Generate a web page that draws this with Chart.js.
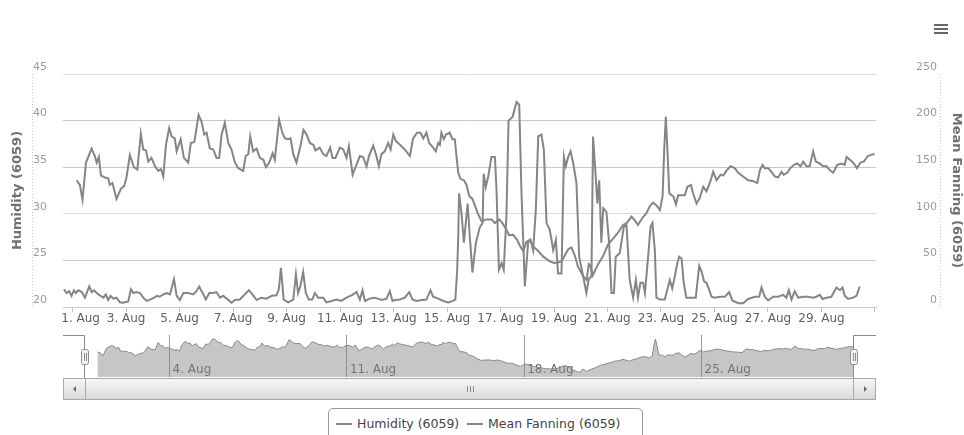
<!DOCTYPE html>
<html><head><meta charset="utf-8">
<script src="https://cdn.jsdelivr.net/npm/chart.js@4.4.1/dist/chart.umd.min.js"></script>
<style>
html,body{margin:0;padding:0;background:#fff;}
#wrap{position:relative;width:964px;height:435px;overflow:hidden;font-family:"DejaVu Sans",Verdana,sans-serif;}
canvas{position:absolute;left:0;}
#main{top:0;}
#nav{top:330px;}
.sb{position:absolute;box-sizing:border-box;top:378px;height:22px;border:1px solid #a8a8a8;background:linear-gradient(#f6f6f6,#dadada);}
.arrow{position:absolute;top:7px;width:0;height:0;border-top:3px solid transparent;border-bottom:3px solid transparent;}
.grip{position:absolute;top:386px;width:1px;height:6px;background:#8a8a8a;}
#legend{position:absolute;left:328px;top:408px;width:315px;height:34px;box-sizing:border-box;border:1px solid #9a9a9a;border-radius:5px;font-size:12.5px;color:#444;white-space:nowrap;}
#legend .it{position:absolute;top:7px;}
#legend .sym{display:inline-block;width:16px;height:2px;background:#858585;vertical-align:middle;margin-right:5px;position:relative;top:-1px;}
.bar{position:absolute;left:934px;width:14px;height:2px;background:#666;}
</style></head><body>
<div id="wrap">
  <canvas id="main" width="964" height="330"></canvas>
  <canvas id="nav" width="964" height="50"></canvas>
  <div class="sb" style="left:63px;width:813px;"></div>
  <div class="sb" style="left:63px;width:23px;"><div class="arrow" style="left:9px;border-right:3px solid #666;"></div></div>
  <div class="sb" style="left:85px;width:769px;"></div>
  <div class="sb" style="left:853px;width:23px;"><div class="arrow" style="left:10px;border-left:3px solid #666;"></div></div>
  <div class="grip" style="left:467px;"></div><div class="grip" style="left:470px;"></div><div class="grip" style="left:473px;"></div>
  <div id="legend"></div>
  <div class="bar" style="top:24px;"></div><div class="bar" style="top:28px;"></div><div class="bar" style="top:32px;"></div>
</div>
<script>
// ---- data (day of August, fractional) ----
const humidityDays = [1.15,1.27,1.37,1.50,1.71,1.83,1.90,1.98,2.06,2.21,2.33,2.39,2.49,2.64,2.81,2.93,3.02,3.14,3.29,3.42,3.55,3.64,3.74,3.83,3.95,4.08,4.20,4.30,4.39,4.49,4.61,4.70,4.82,4.89,5.04,5.16,5.32,5.42,5.55,5.71,5.82,5.92,6.01,6.13,6.26,6.38,6.48,6.57,6.69,6.82,6.94,7.07,7.19,7.38,7.47,7.57,7.64,7.75,7.88,8.00,8.13,8.23,8.35,8.48,8.56,8.72,8.84,8.94,9.06,9.15,9.25,9.37,9.53,9.63,9.75,9.87,10.00,10.08,10.24,10.37,10.49,10.63,10.72,10.83,10.99,11.12,11.24,11.33,11.47,11.59,11.74,11.86,11.99,12.08,12.24,12.36,12.45,12.55,12.67,12.80,12.89,12.99,13.09,13.24,13.42,13.61,13.73,13.88,14.01,14.11,14.23,14.33,14.48,14.58,14.67,14.73,14.79,14.88,14.96,15.10,15.20,15.29,15.35,15.42,15.50,15.63,15.73,15.83,15.95,16.04,16.16,16.29,16.48,16.66,16.79,16.95,17.07,17.20,17.32,17.47,17.62,17.72,17.85,17.97,18.10,18.22,18.41,18.60,18.84,19.03,19.28,19.53,19.65,19.78,19.90,20.09,20.22,20.30,20.36,20.45,20.65,20.84,21.02,21.20,21.40,21.58,21.71,21.90,22.02,22.14,22.29,22.46,22.58,22.71,22.83,22.96,23.06,23.12,23.18,23.24,23.31,23.39,23.46,23.56,23.64,23.77,23.89,23.99,24.12,24.20,24.33,24.45,24.58,24.70,24.85,24.95,25.08,25.23,25.33,25.47,25.60,25.76,25.89,26.07,26.26,26.45,26.60,26.70,26.80,26.88,27.01,27.13,27.26,27.38,27.51,27.59,27.72,27.84,27.97,28.09,28.22,28.32,28.44,28.56,28.69,28.79,28.94,29.06,29.19,29.31,29.44,29.59,29.75,29.87,29.94,30.06,30.18,30.33,30.46,30.58,30.74,30.93,30.99];
const humidity = [33.6,33.1,31.5,35.5,37.0,36.2,35.5,36.1,34.1,33.9,33.8,33.1,33.3,31.6,32.7,33.0,34.0,36.3,35.0,34.75,38.6,36.9,36.8,35.6,36.0,35.1,34.6,34.8,34.0,37.4,39.2,38.3,38.1,36.7,38.0,36.0,35.5,37.6,37.7,40.6,39.9,38.5,38.7,37.0,36.9,36.0,36.0,38.5,39.75,37.6,36.9,35.5,34.9,34.6,36.2,36.4,38.3,36.7,37.0,36.0,35.8,35.0,35.5,36.5,35.8,40.1,38.7,38.1,38.0,38.1,36.4,35.5,37.4,39.0,38.5,37.6,37.4,36.8,37.1,36.4,36.2,37.1,36.0,36.0,37.1,36.9,36.0,37.25,34.2,35.1,36.2,36.1,35.1,36.2,37.3,36.2,35.1,36.4,36.7,37.6,36.9,38.5,37.8,37.4,36.9,36.2,38.1,38.7,38.7,38.1,38.7,37.6,37.1,36.7,37.6,37.4,38.7,38.0,38.5,38.7,38.0,38.0,36.3,34.4,33.75,33.6,33.1,31.9,31.6,30.9,30.0,29.2,29.4,29.4,29.0,29.4,29.0,28.4,27.7,27.75,27.2,26.6,26.0,27.0,27.2,26.5,26.0,25.4,24.9,24.7,24.9,26.2,26.4,25.5,24.3,23.3,22.9,24.6,24.4,23.4,24.6,25.5,26.7,27.3,28.0,28.8,29.0,29.7,29.3,28.8,29.5,30.1,30.8,31.2,30.9,30.4,31.9,36.9,40.4,36.9,32.2,32.0,31.9,31.0,32.0,32.0,32.0,32.9,33.1,32.2,31.1,31.7,32.9,32.4,33.5,34.5,33.6,34.2,34.1,34.7,35.1,34.9,34.4,34.0,33.6,33.5,33.3,34.7,35.25,34.9,34.9,34.5,34.0,33.9,34.5,34.2,34.4,34.9,35.25,35.4,35.1,35.6,35.1,35.1,36.7,35.6,35.4,35.1,35.1,34.7,34.4,35.25,35.4,35.25,36.1,35.8,35.5,34.9,35.5,35.6,36.2,36.4,36.4];
const fanningDays = [0.675,0.77,0.87,0.96,1.05,1.12,1.21,1.34,1.46,1.62,1.71,1.80,1.90,2.02,2.15,2.24,2.33,2.42,2.52,2.64,2.77,2.89,3.08,3.18,3.27,3.39,3.52,3.64,3.77,3.89,4.05,4.16,4.26,4.39,4.51,4.64,4.79,4.89,5.01,5.14,5.32,5.51,5.63,5.73,5.86,5.98,6.11,6.26,6.38,6.51,6.63,6.76,6.94,7.07,7.25,7.44,7.59,7.72,7.88,8.06,8.25,8.44,8.62,8.71,8.79,8.89,9.06,9.25,9.35,9.43,9.52,9.62,9.72,9.83,9.96,10.06,10.18,10.37,10.49,10.68,10.87,11.05,11.24,11.43,11.62,11.74,11.84,11.93,12.11,12.30,12.55,12.74,12.86,12.96,13.05,13.24,13.42,13.59,13.71,13.86,14.05,14.23,14.38,14.48,14.67,14.86,15.04,15.23,15.31,15.38,15.42,15.45,15.54,15.63,15.77,15.85,15.95,16.08,16.23,16.33,16.37,16.45,16.54,16.66,16.79,16.85,16.94,17.04,17.12,17.22,17.30,17.45,17.60,17.70,17.78,17.91,18.03,18.12,18.22,18.32,18.41,18.53,18.62,18.72,18.84,18.97,19.07,19.15,19.28,19.37,19.44,19.53,19.62,19.72,19.84,19.94,20.09,20.21,20.30,20.40,20.46,20.56,20.62,20.69,20.77,20.84,20.96,21.06,21.15,21.24,21.31,21.46,21.61,21.71,21.83,21.96,22.06,22.14,22.23,22.33,22.40,22.52,22.61,22.68,22.77,22.83,22.96,23.14,23.33,23.42,23.49,23.61,23.68,23.77,23.85,23.95,24.14,24.30,24.43,24.52,24.61,24.70,24.80,24.89,25.01,25.20,25.39,25.55,25.67,25.89,26.07,26.26,26.51,26.67,26.76,26.88,27.01,27.19,27.38,27.57,27.69,27.78,27.88,28.00,28.13,28.32,28.50,28.69,28.81,28.94,29.04,29.19,29.37,29.56,29.69,29.79,29.87,30.00,30.18,30.31,30.43];
const fanning = [19,15,17,12,18,15,18,16,10,22,16,18,15,12.5,10,13.5,7.5,12,9,10,5,4.5,6,19,15,16,15,10,6.5,8,10,12,11,13.5,15,13.5,30,12,7.5,15,15,13.5,17,22,15,8,15,15,16,10,12,9,4.6,7.5,8,13.5,18,13.5,7.5,10,9,12,12.5,19,42,8,5,8,35,15,23,37.5,15,8,8,15,10,10,5,6.5,8,6.5,10,12.5,16,8,18,6.5,9,10,7.5,9,17,6.5,7.5,8,10,16,8,6.5,7.5,8,18,11,9,6.5,5,6.5,8,40,76,122,101,69,111,76,37,69,86,90,143,129,140,161,161,126,40,47,40,97,200,204,220,217,126,22,69,72,61,104,183,185,169,90,83,61,72,36,36,161,151,161,167,154,133,54,33,15,30,33,183,140,111,136,69,106,102,69,15,15,54,58,86,88,29,10,29,10,26,26,15,54,86,90,61,10,8,8,29,20,29,47,54,52,26,10,10,10,44,38,27.5,26,18.6,11,10,11,11,16,7,4,4,8.6,11,11,21,11,7,11,11,13,10,18,8,17,10,11,11,10,11,13,8.6,10,11,21,18,21,12,8.6,10,12,22];
const xTickDays = [1,3,5,7,9,11,13,15,17,19,21,23,25,27,29,31];
const xTickLabels = ['1. Aug','3. Aug','5. Aug','7. Aug','9. Aug','11. Aug','13. Aug','15. Aug','17. Aug','19. Aug','21. Aug','23. Aug','25. Aug','27. Aug','29. Aug',''];
const navTickDays = [4,11,18,25];
const navTickLabels = ['4. Aug','11. Aug','18. Aug','25. Aug'];
const leftTicks = [20,25,30,35,40,45];
const rightTicks = [0,50,100,150,200,250];
const seriesNames = ['Humidity (6059)','Mean Fanning (6059)'];

const FONT = '"DejaVu Sans", Verdana, sans-serif';
const LINE = '#858585';
const pts = (xs, ys) => xs.map((x, i) => ({x, y: ys[i]}));

const axisLines = {
  id: 'axisLines',
  beforeDraw(chart) {
    // keep the first x label inside the plot area (shift it right like the original)
    const sx = chart.scales.x;
    const items = sx && sx.getLabelItems ? sx.getLabelItems(chart.chartArea) : null;
    if (items && items.length && !items[0]._shifted) {
      const tr = items[0].options && items[0].options.translation;
      if (tr) { tr[0] += 8; items[0]._shifted = true; }
    }
  },
  afterDraw(chart) {
    const {ctx, chartArea: a} = chart;
    ctx.save();
    ctx.strokeStyle = '#c4c4c4';
    ctx.lineWidth = 1;
    ctx.setLineDash([1, 2]);
    ctx.beginPath();
    ctx.moveTo(a.left - 30.5, a.top); ctx.lineTo(a.left - 30.5, a.bottom);
    ctx.moveTo(a.right + 64.5, a.top); ctx.lineTo(a.right + 64.5, a.bottom);
    ctx.stroke();
    ctx.restore();
  }
};

const main = new Chart(document.getElementById('main'), {
  type: 'line',
  data: {
    datasets: [
      {label: seriesNames[0], data: pts(humidityDays, humidity), yAxisID: 'yL', borderColor: LINE, borderWidth: 2, pointRadius: 0, tension: 0},
      {label: seriesNames[1], data: pts(fanningDays, fanning), yAxisID: 'yR', borderColor: LINE, borderWidth: 2, pointRadius: 0, tension: 0}
    ]
  },
  plugins: [axisLines],
  options: {
    responsive: false, animation: false, events: [],
    layout: {padding: {left: 0, right: 27, top: 74, bottom: 0}},
    plugins: {legend: {display: false}, tooltip: {enabled: false}},
    scales: {
      x: {
        type: 'linear', min: 0.64, max: 31.04,
        afterBuildTicks: s => { s.ticks = xTickDays.map(v => ({value: v})); },
        afterFit: s => { s.height = 23; },
        grid: {drawOnChartArea: false, drawTicks: true, tickLength: 5, color: '#c0c0c0'},
        border: {display: true, color: '#c8c8c8'},
        ticks: {padding: 0, maxRotation: 0, autoSkip: false, color: '#606060', font: {family: FONT, size: 12},
          callback: (v, i) => xTickLabels[i]}
      },
      yL: {
        position: 'left', min: 20, max: 45,
        afterBuildTicks: s => { s.ticks = leftTicks.map(v => ({value: v})); },
        afterFit: s => { s.width = 63; },
        grid: {drawTicks: false, color: c => (c.tick && (c.tick.value === 45 || c.tick.value === 30)) ? '#dcdcdc' : '#c8c8c8'},
        border: {display: false},
        ticks: {padding: 16, labelOffset: -7, color: '#9a9a9a', font: {family: FONT, size: 11}},
        title: {display: true, text: seriesNames[0], color: '#707070', font: {family: FONT, size: 13, weight: 'bold'}, padding: {top: 10, bottom: 0}}
      },
      yR: {
        position: 'right', min: 0, max: 250,
        afterBuildTicks: s => { s.ticks = rightTicks.map(v => ({value: v})); },
        afterFit: s => { s.width = 61; },
        grid: {drawOnChartArea: false, drawTicks: false},
        border: {display: false},
        ticks: {crossAlign: 'far', padding: 0, labelOffset: -7, color: '#9a9a9a', font: {family: FONT, size: 11}},
        title: {display: true, text: seriesNames[1], color: '#707070', font: {family: FONT, size: 13, weight: 'bold'}, padding: {top: -27, bottom: 0}}
      }
    }
  }
});

const navDecor = {
  id: 'navDecor',
  beforeDatasetsDraw(chart) {
    // week labels of the navigator x scale, inside the plot, right of each grid line
    const {ctx, chartArea: a} = chart;
    const sx = chart.scales.x;
    ctx.save();
    ctx.fillStyle = '#6a6a6a';
    ctx.font = '12px ' + FONT;
    ctx.textAlign = 'left';
    ctx.textBaseline = 'middle';
    navTickDays.forEach((d, i) => ctx.fillText(navTickLabels[i], sx.getPixelForValue(d) + 3, a.bottom - 7));
    ctx.restore();
  },
  afterDraw(chart) {
    const {ctx, chartArea: a} = chart;
    const L = 63, R = 876;
    ctx.save();
    ctx.strokeStyle = '#8c8c8c';
    ctx.lineWidth = 1;
    ctx.beginPath();
    ctx.moveTo(L, a.top + 0.5); ctx.lineTo(a.left - 0.5, a.top + 0.5); ctx.lineTo(a.left - 0.5, chart.height);
    ctx.moveTo(a.right + 0.5, chart.height); ctx.lineTo(a.right + 0.5, a.top + 0.5); ctx.lineTo(R, a.top + 0.5);
    ctx.stroke();
    [a.left - 0.5, a.right + 0.5].forEach(x => {
      const w = 7, h = 15, y = a.top + 14;
      ctx.beginPath();
      ctx.roundRect(Math.round(x - w / 2) + 0.5, y + 0.5, w, h, 2);
      ctx.fillStyle = '#f4f4f4';
      ctx.fill();
      ctx.strokeStyle = '#8c8c8c';
      ctx.stroke();
      ctx.beginPath();
      ctx.moveTo(Math.round(x) - 1 + 0.5, y + 4); ctx.lineTo(Math.round(x) - 1 + 0.5, y + h - 3);
      ctx.moveTo(Math.round(x) + 1 + 0.5, y + 4); ctx.lineTo(Math.round(x) + 1 + 0.5, y + h - 3);
      ctx.stroke();
    });
    ctx.restore();
  }
};

new Chart(document.getElementById('nav'), {
  type: 'line',
  data: {
    datasets: [{label: seriesNames[0], data: pts(humidityDays, humidity), borderColor: '#888888', borderWidth: 1,
      backgroundColor: 'rgba(128,128,128,0.45)', fill: 'start', pointRadius: 0, tension: 0}]
  },
  plugins: [navDecor],
  options: {
    responsive: false, animation: false, events: [],
    layout: {padding: {left: 85, right: 111, top: 5, bottom: 3}},
    plugins: {legend: {display: false}, tooltip: {enabled: false}},
    scales: {
      x: {
        type: 'linear', min: 0.66, max: 30.98,
        afterBuildTicks: s => { s.ticks = navTickDays.map(v => ({value: v})); },
        afterFit: s => { s.height = 0; },
        grid: {drawOnChartArea: true, drawTicks: false, color: '#9a9a9a'},
        border: {display: false},
        ticks: {display: false}
      },
      y: {display: false, min: 20.5, max: 42.5}
    }
  }
});

// legend from chart datasets
const lg = document.getElementById('legend');
const lefts = [7, 138];
main.data.datasets.forEach((ds, i) => {
  const it = document.createElement('span');
  it.className = 'it';
  it.style.left = lefts[i] + 'px';
  const sym = document.createElement('span');
  sym.className = 'sym';
  sym.style.background = ds.borderColor;
  it.appendChild(sym);
  it.appendChild(document.createTextNode(ds.label));
  lg.appendChild(it);
});
</script>
</body></html>
